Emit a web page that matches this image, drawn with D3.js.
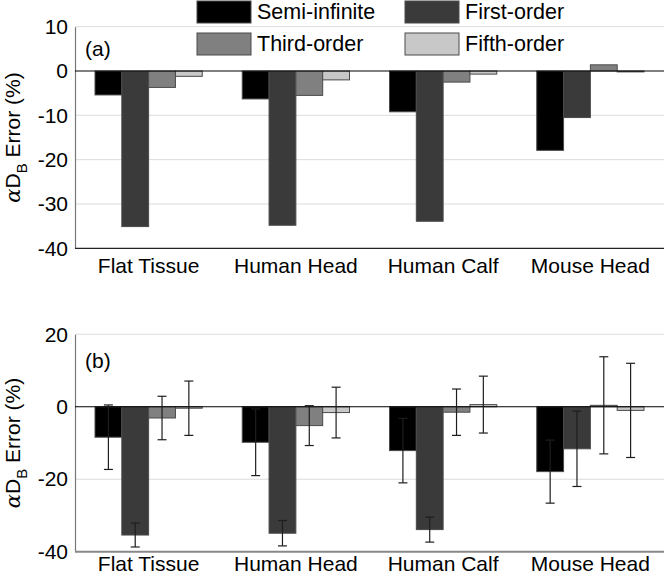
<!DOCTYPE html>
<html><head><meta charset="utf-8">
<script src="https://cdn.jsdelivr.net/npm/d3@7"></script>
<style>
html,body{margin:0;padding:0;background:#fff;}
svg{display:block;font-family:"Liberation Sans",Arial,sans-serif;}
</style></head>
<body><svg id="chart" width="668" height="578"></svg>
<script>
const categories = ["Flat Tissue","Human Head","Human Calf","Mouse Head"];
const seriesNames = ["Semi-infinite","First-order","Third-order","Fifth-order"];
const seriesColors = ["#000000","#3a3a3a","#808080","#c8c8c8"];
// panel (a) values per series, ordered by category
const aSemi  = [-5.4, -6.3, -9.2, -17.9];
const aFirst = [-35.1, -34.8, -33.9, -10.5];
const aThird = [-3.7, -5.5, -2.5, 1.4];
const aFifth = [-1.2, -2.0, -0.7, -0.2];
// panel (b) means and error half-widths
const bSemi  = [-8.4, -9.8, -12.1, -17.9];
const bFirst = [-35.4, -34.9, -33.9, -11.6];
const bThird = [-3.1, -5.2, -1.5, 0.4];
const bFifth = [-0.4, -1.6, 0.6, -1.0];
const eSemi  = [8.9, 9.2, 8.9, 8.7];
const eFirst = [3.3, 3.5, 3.45, 10.4];
const eThird = [6.0, 5.5, 6.4, 13.4];
const eFifth = [7.5, 7.0, 7.85, 13.0];
const aTicks = [10, 0, -10, -20, -30, -40];
const bTicks = [20, 0, -20, -40];

const svg = d3.select("#chart");
const left = 75, right = 664;
const x0 = d3.scaleBand().domain(categories).range([left, right]).padding(0);
const x1 = d3.scaleBand().domain(seriesNames).range([20, x0.bandwidth() - 20]).padding(0);
const color = d3.scaleOrdinal().domain(seriesNames).range(seriesColors);

function panel(opts) {
  const {yDomain, yRange, ticks, series, errors, label, labelY, catY} = opts;
  const y = d3.scaleLinear().domain(yDomain).range(yRange);
  const g = svg.append("g");
  // gridlines
  g.selectAll("line.grid").data(ticks.filter(t => t !== 0 && t !== yDomain[0]))
    .enter().append("line")
    .attr("x1", left).attr("x2", right)
    .attr("y1", d => y(d)).attr("y2", d => y(d))
    .attr("stroke", "#dcdcdc").attr("stroke-width", 1);
  // y axis
  const ax = g.append("g").attr("transform", `translate(${left},0)`)
    .call(d3.axisLeft(y).tickValues(ticks).tickFormat(d => String(d)).tickSize(0).tickPadding(7));
  ax.select(".domain").attr("stroke", "#777").attr("stroke-width", 1.2);
  ax.selectAll("text").attr("font-size", 21).attr("fill", "#000")
    .attr("font-family", '"Liberation Sans",Arial,sans-serif');
  // bars
  const data = [];
  categories.forEach((c, i) => seriesNames.forEach((s, j) => {
    data.push({c, s, v: series[j][i], e: errors ? errors[j][i] : null});
  }));
  g.selectAll("rect.bar").data(data).enter().append("rect")
    .attr("x", d => x0(d.c) + x1(d.s))
    .attr("width", x1.bandwidth())
    .attr("y", d => y(Math.max(0, d.v)))
    .attr("height", d => Math.abs(y(d.v) - y(0)))
    .attr("fill", d => color(d.s))
    .attr("stroke", "#4a4a4a").attr("stroke-width", 1);
  // zero line
  g.append("line").attr("x1", left).attr("x2", right)
    .attr("y1", y(0)).attr("y2", y(0)).attr("stroke", "#000").attr("stroke-width", 1.2);
  // bottom axis line
  g.append("line").attr("x1", left).attr("x2", right)
    .attr("y1", y(yDomain[0])).attr("y2", y(yDomain[0]))
    .attr("stroke", opts.bottomColor).attr("stroke-width", opts.bottomWidth);
  // error bars
  if (errors) {
    const eb = g.selectAll("g.err").data(data).enter().append("g")
      .attr("stroke", "#1e1e1e").attr("stroke-width", 1.2);
    const cx = d => x0(d.c) + x1(d.s) + x1.bandwidth() / 2;
    eb.append("line").attr("x1", cx).attr("x2", cx)
      .attr("y1", d => y(d.v + d.e)).attr("y2", d => y(d.v - d.e));
    eb.append("line").attr("x1", d => cx(d) - 4.5).attr("x2", d => cx(d) + 4.5)
      .attr("y1", d => y(d.v + d.e)).attr("y2", d => y(d.v + d.e));
    eb.append("line").attr("x1", d => cx(d) - 4.5).attr("x2", d => cx(d) + 4.5)
      .attr("y1", d => y(d.v - d.e)).attr("y2", d => y(d.v - d.e));
  }
  // panel label
  g.append("text").attr("x", 85).attr("y", labelY).attr("font-size", 21).text(label);
  // category labels
  g.selectAll("text.cat").data(categories).enter().append("text")
    .attr("x", d => x0(d) + x0.bandwidth() / 2).attr("y", catY)
    .attr("text-anchor", "middle").attr("font-size", 21).text(d => d);
  // y axis title
  const cy = (yRange[0] + yRange[1]) / 2;
  const t = g.append("text").attr("transform", `translate(20,${cy}) rotate(-90)`)
    .attr("text-anchor", "middle").attr("font-size", 21);
  t.append("tspan").attr("font-family", '"DejaVu Serif","Liberation Serif",serif').attr("font-style", "italic").text("α");
  t.append("tspan").text("D");
  t.append("tspan").attr("font-size", 15).attr("dy", 7).text("B");
  t.append("tspan").attr("dy", -7).text(" Error (%)");
}

panel({yDomain: [-40, 10], yRange: [248.3, 26.7], ticks: aTicks,
  series: [aSemi, aFirst, aThird, aFifth], errors: null,
  label: "(a)", labelY: 56, catY: 273, bottomColor: "#222", bottomWidth: 1.2});
panel({yDomain: [-40, 20], yRange: [551.7, 334.3], ticks: bTicks,
  series: [bSemi, bFirst, bThird, bFifth], errors: [eSemi, eFirst, eThird, eFifth],
  label: "(b)", labelY: 368, catY: 571, bottomColor: "#888", bottomWidth: 2});

// legend
const legPos = [[197, 1], [405, 1], [197, 33], [405, 33]];
const leg = svg.append("g");
seriesNames.forEach((s, i) => {
  const [lx, ly] = legPos[i];
  leg.append("rect").attr("x", lx).attr("y", ly).attr("width", 54).attr("height", 22)
    .attr("fill", color(s)).attr("stroke", "#4a4a4a").attr("stroke-width", 1);
  leg.append("text").attr("x", lx + 60).attr("y", ly + 18).attr("font-size", 21.5).text(s);
});
</script></body></html>
